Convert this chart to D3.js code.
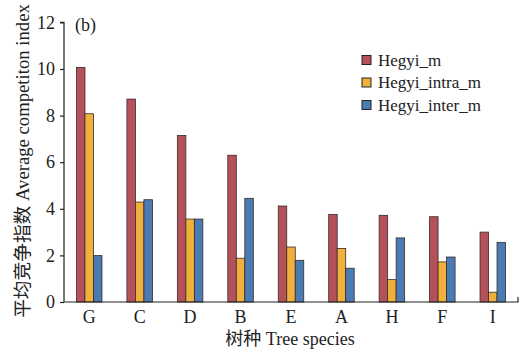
<!DOCTYPE html>
<html><head><meta charset="utf-8">
<script src="https://cdn.jsdelivr.net/npm/d3@7"></script>
<style>body{margin:0;background:#fff}svg{display:block}
svg text{font-family:'Liberation Serif','DejaVu Serif','Noto Sans CJK SC',serif !important;fill:#222}</style>
</head><body><svg id="c" width="523" height="353"></svg>
<script>
const categories = ["G","C","D","B","E","A","H","F","I"];
const seriesNames = ["Hegyi_m","Hegyi_intra_m","Hegyi_inter_m"];
const hegyiM     = [10.07, 8.71, 7.15, 6.30, 4.12, 3.76, 3.72, 3.66, 3.00];
const hegyiIntra = [8.08, 4.29, 3.56, 1.88, 2.36, 2.30, 0.96, 1.72, 0.42];
const hegyiInter = [1.99, 4.39, 3.56, 4.45, 1.79, 1.45, 2.75, 1.93, 2.56];
const yTicks = [0,2,4,6,8,10,12];
const colors = ["#b5515b","#f0b13c","#4b7bb3"];

const series = [hegyiM, hegyiIntra, hegyiInter];
const svg = d3.select("#c");
const x0 = 64, x1 = 518, yBot = 302, yTop = 22.4;
const x = d3.scaleBand().domain(categories).range([x0, x1]).padding(0);
const y = d3.scaleLinear().domain([0,12]).range([yBot, yTop]);
const barW = 8.5;
const xs = d3.scaleBand().domain(seriesNames).range([0, barW*3]);

const g = svg.append("g");
categories.forEach((c, i) => {
  series.forEach((s, j) => {
    g.append("rect")
      .attr("x", x(c) + x.bandwidth()/2 - barW*1.5 + xs(seriesNames[j]))
      .attr("y", y(s[i]))
      .attr("width", barW)
      .attr("height", y(0) - y(s[i]))
      .attr("fill", colors[j])
      .attr("stroke", "#3a2a2a").attr("stroke-width", 0.8);
  });
});

// y axis
const yAxis = svg.append("g").attr("transform", `translate(${x0},0)`)
  .call(d3.axisLeft(y).tickValues(yTicks).tickSize(4).tickPadding(5));
yAxis.attr("font-family", null);
yAxis.select(".domain").attr("d", `M-4,${y(12)}H0V${yBot}`).attr("stroke","#222").attr("stroke-width",1.2);
yAxis.selectAll(".tick line").attr("stroke","#222").attr("stroke-width",1.2);
yAxis.selectAll("text").style("font-size","18px").attr("fill","#222");

// x axis
const xAxis = svg.append("g").attr("transform", `translate(0,${yBot})`)
  .call(d3.axisBottom(x).tickSize(0).tickPadding(8));
xAxis.attr("font-family", null);
xAxis.select(".domain").attr("d", `M${x0},0H${x1}V-5`).attr("stroke","#222").attr("stroke-width",1.2);
xAxis.selectAll("text").style("font-size","18px").attr("fill","#222");

// axis titles
svg.append("text").attr("x", 290).attr("y", 345).attr("text-anchor","middle")
  .style("font-size","18px").text("树种 Tree species");
svg.append("text").attr("transform","translate(29,161) rotate(-90)").attr("text-anchor","middle")
  .style("font-size","18.7px").text("平均竞争指数 Average competiton index");

svg.append("text").attr("x", 75).attr("y", 31).style("font-size","18px").text("(b)");

// legend
const leg = svg.append("g");
seriesNames.forEach((n, j) => {
  const yy = 60 + j*22.5;
  leg.append("rect").attr("x", 362).attr("y", yy - 4.5).attr("width", 9).attr("height", 9)
    .attr("fill", colors[j]).attr("stroke","#222").attr("stroke-width",1);
  leg.append("text").attr("x", 378).attr("y", yy + 5.5).style("font-size","17px").text(n);
});
</script></body></html>
